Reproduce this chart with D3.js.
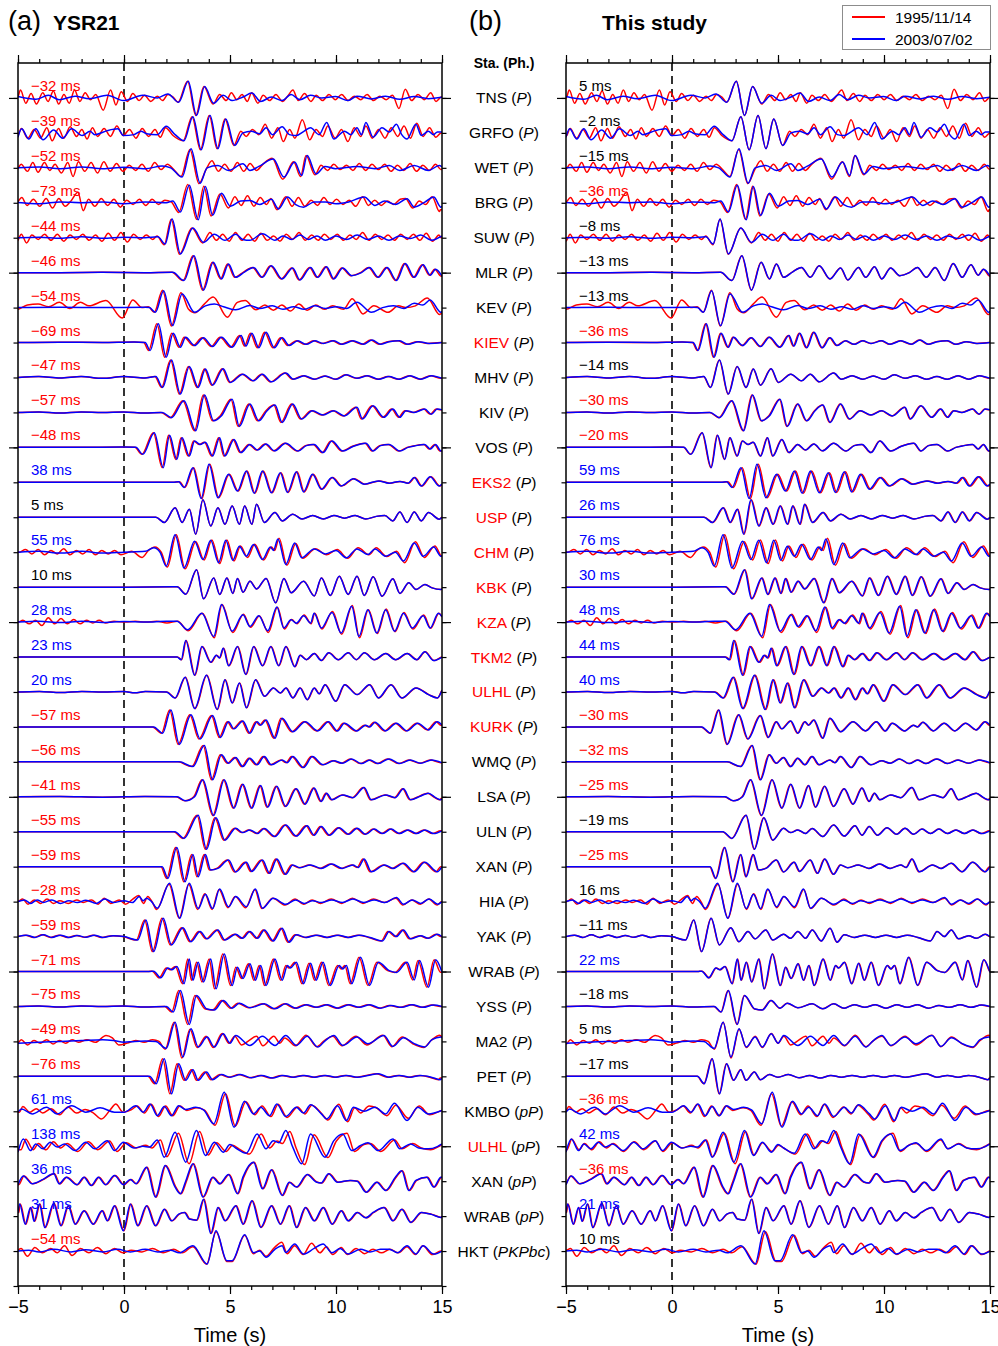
<!DOCTYPE html>
<html>
<head>
<meta charset="utf-8">
<script src="https://cdn.jsdelivr.net/npm/d3@7"></script>
<style>
  body { margin: 0; background: #fff; }
  text { font-family: "Liberation Sans", Arial, Helvetica, sans-serif; }
</style>
</head>
<body>
<svg id="chart" width="998" height="1346"></svg>
<script>
// ---------------- data ----------------
const stations = ["TNS","GRFO","WET","BRG","SUW","MLR","KEV","KIEV","MHV","KIV","VOS","EKS2","USP","CHM","KBK","KZA","TKM2","ULHL","KURK","WMQ","LSA","ULN","XAN","HIA","YAK","WRAB","YSS","MA2","PET","KMBO","ULHL","XAN","WRAB","HKT"];
const phases = ["P","P","P","P","P","P","P","P","P","P","P","P","P","P","P","P","P","P","P","P","P","P","P","P","P","P","P","P","P","pP","pP","pP","pP","PKPbc"];
// 1 = station name printed in red
const nameIsRed = [0,0,0,0,0,0,0,1,0,0,0,1,1,1,1,1,1,1,1,0,0,0,0,0,0,0,0,0,0,0,1,0,0,0];
// differential residuals (ms), 1995/11/14 relative to 2003/07/02
const residualsYSR21 = [-32,-39,-52,-73,-44,-46,-54,-69,-47,-57,-48,38,5,55,10,28,23,20,-57,-56,-41,-55,-59,-28,-59,-71,-75,-49,-76,61,138,36,31,-54];
const residualsThisStudy = [5,-2,-15,-36,-8,-13,-13,-36,-14,-30,-20,59,26,76,30,48,44,40,-30,-32,-25,-19,-25,16,-11,22,-18,5,-17,-36,42,-36,21,10];
const timeTicks = [-5, 0, 5, 10, 15];
const eventLabels = ["1995/11/14", "2003/07/02"];

// waveform turning points, flat [time (s), normalised amplitude, ...] per station
const blueTraces = [
 [-5,.08,-4.16,-.08,-3.57,.15,-3.06,-.1,-2.31,.1,-1.63,-.04,-.79,.15,-.03,-.15,.89,.15,1.57,0,2.07,.23,2.58,-.25,3.03,.95,3.42,-1,3.8,.65,4.23,-.3,4.68,.15,5.1,-.15,5.61,.05,6.03,.28,6.45,-.2,6.95,.05,7.46,-.15,7.88,.2,8.3,-.1,8.8,.15,9.31,0,9.98,.08,10.57,-.15,10.99,.1,11.67,-.06,12.34,.1,13.01,-.08,13.69,.08,14.36,-.04,15,.04],
 [-5,-.25,-4.83,.23,-4.49,-.35,-4.16,.23,-3.82,-.4,-3.32,.17,-2.9,-.3,-2.47,.23,-1.97,-.15,-1.6,.1,-1.38,-.1,-.79,.13,-.29,.23,-.03,-.15,.47,-.1,.8,.1,1.06,-.05,1.57,-.1,1.99,.38,2.41,-.1,2.83,-.45,3.25,.93,3.64,-.97,4.06,1,4.43,-.9,4.8,.8,5.22,-.72,5.61,0,6,.1,6.4,-.05,6.7,.3,7,-.1,7.46,.35,7.8,-.1,8.13,-.15,8.5,.1,8.8,.3,9.2,-.1,9.56,.6,9.9,-.35,10.4,.1,10.7,-.1,10.99,.3,11.2,-.1,11.41,.6,11.75,-.25,12.17,.3,12.51,.05,12.85,.5,13.1,-.1,13.35,-.35,13.77,.5,14.02,-.15,14.36,.1,14.6,-.1,14.78,.05,15,.05],
 [-5,0,-4,.05,-3,-.05,-2,.05,-1,-.05,0,.03,1,-.05,1.8,.1,2.2,0,2.74,-.53,3.16,1.09,3.59,-.88,3.92,0,4.43,.13,4.93,-.15,5.61,.23,5.94,-.15,6.36,.08,7.04,.5,7.54,-.53,8.05,.33,8.38,-.44,8.64,.7,9.06,-.35,9.48,.08,9.98,-.05,10.99,.08,11.84,-.05,12.51,.13,13.01,-.15,13.69,.13,14.36,-.15,14.87,.13,15,.05],
 [-5,.02,-4,-.05,-3,.05,-2,0,-1,.05,0,-.05,1,.05,2,0,2.3,.1,2.66,-.53,3.08,1,3.5,-.97,3.84,.93,4.18,-.72,4.6,.55,5.02,-.2,5.5,.1,5.94,.13,6.4,-.1,6.95,.2,7.29,-.35,7.71,.33,8.1,-.1,8.47,-.25,8.97,.05,9.5,.05,10,-.05,10.6,.05,11.33,.33,11.84,-.15,12.3,.1,12.8,-.1,13.35,.23,13.69,-.25,14.19,.04,14.61,.33,14.95,-.25,15,-.2],
 [-5,0,-4,.03,-3,-.03,-2,.05,-1,-.03,0,.03,1,0,1.6,.05,1.94,-.36,2.27,1.07,2.66,-.93,3.25,.55,3.75,-.27,4.26,.2,4.76,-.15,5.27,.2,5.6,-.1,5.94,-.15,6.53,.23,7.12,-.15,7.5,.1,7.9,-.1,8.3,.15,8.7,-.1,9.1,.1,9.5,-.15,10,.1,10.5,-.1,11,.15,11.5,-.1,12,.1,12.5,-.15,13,.1,13.5,-.05,14,.15,14.5,-.15,15,.1],
 [-5,0,-3,0,-1,.02,1,0,2.3,.02,2.83,-.45,3.3,.97,3.75,-1,4.21,.6,4.6,-.36,4.93,.5,5.27,-.27,5.7,.05,6.11,.3,6.53,-.27,6.95,.4,7.46,-.36,7.96,.27,8.3,-.42,8.8,.3,9.14,-.27,9.56,.34,9.9,-.36,10.32,.27,10.74,-.17,11.2,0,11.58,.3,12,-.27,12.42,.3,12.85,-.45,13.27,.53,13.69,-.27,14.11,.45,14.45,-.15,14.7,.2,15,-.2],
 [-5,0,-3,.02,-1,0,1,.02,1.2,0,1.48,-.27,1.87,.97,2.29,-1.03,2.74,.78,3.33,-.27,3.84,.1,4.26,.2,4.7,.05,5.27,-.13,5.94,.12,6.4,-.05,7,.1,7.5,-.1,8,.05,8.5,-.1,9,.1,9.5,-.05,10,.05,10.5,-.05,10.99,.3,11.67,-.27,12.2,0,12.7,.1,13.2,-.05,13.69,.25,14.1,.15,14.44,.44,14.95,-.27,15,-.2],
 [-5,0,-3,.02,-1,0,.5,.03,1,0,1.23,-.46,1.62,1.07,1.99,-.84,2.32,.53,2.66,-.27,2.91,.3,3.33,-.17,3.75,.27,4.18,-.23,4.6,.3,5.1,-.27,5.52,.4,5.75,-.2,6.03,.53,6.36,-.3,6.7,.59,7.09,-.3,7.46,.27,7.79,-.17,8.2,.1,8.6,-.1,9,.1,9.4,-.05,9.9,.1,10.3,-.1,10.8,.1,11.3,-.1,11.7,.15,12.1,-.1,12.5,.05,13,.1,13.4,-.1,13.9,.05,14.4,-.05,15,0],
 [-5,0,-4,.05,-3,-.03,-2,.05,-1,-.05,0,.05,1,-.03,1.5,.05,1.82,-.57,2.24,1,2.66,-.95,3.08,.63,3.5,-.57,3.84,.48,4.18,-.44,4.68,.5,5.02,-.28,5.61,.19,6.11,-.19,6.53,.19,6.95,-.25,7.63,.25,8,-.1,8.5,.1,9,-.1,9.5,.08,10,-.1,10.5,.15,11,-.05,11.5,.1,12,-.1,12.5,.05,13,-.1,13.5,.1,14,-.1,14.5,.1,15,-.05],
 [-5,0,-4,.03,-3,-.03,-2,.03,-1,0,0,.03,1,-.03,1.8,0,2.24,-.3,2.83,.67,3.38,-1.05,3.8,1,4.23,-.48,4.6,-.19,5.1,.76,5.44,-.8,5.94,.48,6.36,-.48,6.75,.1,7.12,.42,7.46,-.57,7.96,.48,8.38,-.38,8.89,.1,9.39,-.15,9.9,.1,10.4,-.2,10.99,.3,11.25,-.38,11.75,.38,12.26,-.28,12.68,.19,13.01,-.28,13.3,.1,13.69,0,14.19,.19,14.5,-.1,14.78,.19,15,.15],
 [-5,0,-2,0,0,.02,.56,0,.89,-.4,1.43,.84,1.85,-1.16,2.15,.69,2.49,-.69,2.74,.55,3.08,-.5,3.33,.36,3.59,.17,3.84,.3,4.18,-.5,4.51,.55,4.76,-.5,5.19,.45,5.52,-.3,5.94,.17,6.3,-.15,6.7,.2,7.1,-.2,7.63,.23,8.22,-.21,8.6,.1,8.97,.17,9.39,-.3,9.81,.36,10.32,-.21,10.8,.05,11.41,.23,11.75,-.21,12.1,.1,12.51,.17,13.01,-.21,13.4,0,13.69,.08,14.19,.17,14.45,-.1,14.7,.17,14.95,-.21,15,-.2],
 [-5,0,-2,0,0,0,2.3,0,2.58,.03,2.83,-.3,3.25,.84,3.64,-.93,4.01,1.03,4.43,-.88,4.93,.46,5.35,-.5,5.77,.65,6.14,-.63,6.53,.65,6.95,-.6,7.37,.55,7.71,-.58,8.13,.6,8.47,-.55,8.89,.46,9.31,-.4,9.81,.27,10.24,-.21,10.82,.21,11.33,-.11,12,.08,12.5,-.05,13,.05,13.4,-.05,13.69,.27,14.02,-.21,14.44,.32,14.87,-.21,15,-.1],
 [-5,0,-2,0,0,0,1.5,0,1.9,-.3,2.41,.55,2.74,-.3,3.08,.46,3.38,-.97,3.72,1,4.09,-.5,4.43,.55,4.76,-.4,5.1,.65,5.44,-.4,5.69,.65,6.03,-.4,6.25,.74,6.62,-.3,7.12,.27,7.46,-.21,7.96,.17,8.4,-.1,8.9,.1,9.4,-.1,9.9,.1,10.4,-.05,10.9,.1,11.4,-.1,11.9,.05,12.3,.1,12.68,-.21,13.01,.3,13.35,-.3,13.69,.3,14.02,-.21,14.36,.27,14.87,-.11,15,0],
 [-5,0,-4,.05,-3,-.05,-2,.05,-1,-.05,0,0,1,.05,1.4,.25,1.7,0,1.99,-.8,2.41,1,2.83,-.9,3.33,.63,3.72,-.42,4.09,.69,4.46,-.6,4.8,.69,5.13,-.46,5.44,.34,5.77,-.23,6.11,.44,6.53,-.42,6.9,.3,7.05,.1,7.26,.76,7.63,-.7,8.05,.53,8.38,-.32,8.97,.19,9.5,-.1,10,.1,10.49,-.32,10.99,.19,11.5,-.13,11.84,.19,12.34,-.23,12.8,0,13.18,-.5,13.69,.53,14.11,-.23,14.61,.3,14.95,-.23,15,-.2],
 [-5,0,-2,0,0,0,2.5,.02,2.91,-.4,3.42,1,3.75,-.67,4.23,.53,4.51,-.42,4.85,.53,5.13,-.36,5.35,.5,5.61,-.29,5.94,.34,6.25,-.1,6.7,.5,7.15,-.9,7.54,.5,7.88,-.32,8.47,.34,8.97,-.5,9.31,.53,9.73,-.48,10.15,.63,10.57,-.42,10.99,.63,11.33,-.48,11.75,.6,12.17,-.52,12.68,.48,13.01,-.36,13.43,.25,13.77,-.13,14.19,.15,14.53,-.04,14.95,-.13,15,-.1],
 [-5,0,-4,.05,-3,-.03,-2,.05,-1,-.02,0,.03,1,0,2,.05,2.5,.05,3,-.44,3.67,.5,4.23,-.82,4.6,1,5.1,-.52,5.61,.42,5.94,-.25,6.36,.36,6.78,-.5,7.21,.86,7.54,-.34,7.88,.13,8.13,-.06,8.47,.36,8.8,-.06,8.97,.5,9.31,-.34,9.81,.55,10.24,-.63,10.74,.9,11.08,-.82,11.5,.7,11.92,-.63,12.34,.7,12.76,-.53,13.18,.5,13.6,-.34,14.11,.36,14.44,-.34,14.83,.5,15,.3],
 [-5,0,-2,0,0,0,2.5,0,2.7,-.15,2.91,.95,3.33,-1.05,3.67,.6,4.09,-.3,4.35,.1,4.5,-.05,4.68,.5,4.93,-.5,5.35,.6,5.74,-1,6.11,.6,6.53,-.5,6.92,.6,7.29,-.5,7.63,.6,8.05,-.55,8.3,.1,8.6,-.15,8.97,.2,9.3,-.2,9.65,.25,10.1,-.15,10.57,.25,10.95,-.15,11.33,.25,11.8,-.15,12.34,.2,12.8,-.15,13.35,.2,13.8,-.15,14.19,.3,14.6,-.2,15,0],
 [-5,0,-4,.03,-3,-.03,-2,.03,-1,0,0,.03,.5,-.05,1,.03,2,0,2.41,-.34,2.88,.84,3.33,-.95,3.89,.95,4.39,-1,4.76,.7,5.1,-.63,5.44,.51,5.77,-.91,6.2,.7,6.62,-.25,7.04,.23,7.37,-.06,7.63,.23,7.96,-.34,8.3,.23,8.64,-.44,8.97,.23,9.2,-.1,9.48,.42,9.98,-.53,10.4,.42,10.99,-.15,11.58,.42,12,-.34,12.59,.42,13.1,-.34,13.77,.23,14.36,-.15,14.78,-.34,15,.1],
 [-5,0,-2,0,0,0,1.4,0,1.82,-.36,2.21,.97,2.61,-1,3.16,.69,3.59,-.69,4.18,.65,4.55,-.6,4.93,.3,5.19,-.11,5.61,.34,5.94,-.36,6.28,.3,6.45,.1,6.7,.4,7.12,-.65,7.46,.5,7.96,-.27,8.55,.3,9.14,-.23,9.65,.3,10.07,-.23,10.4,.21,10.99,-.23,11.4,.1,11.6,0,11.84,.27,12.34,-.23,12.85,.21,13.35,-.23,13.86,.21,14.36,-.17,14.78,.3,15,.1],
 [-5,0,-2,0,0,0,2.6,0,3.25,-.27,3.79,.93,4.18,-1.03,4.6,.4,4.93,-.08,5.27,.25,5.61,-.27,5.94,.21,6.28,-.17,6.62,.3,6.95,-.17,7.46,.11,7.7,-.05,7.96,.3,8.47,-.32,8.89,.3,9.39,-.17,9.9,.06,10.3,-.08,10.74,.17,11.2,-.1,11.6,.1,12,-.1,12.5,.17,13,-.1,13.5,.1,14,-.08,14.5,.1,15,-.05],
 [-5,0,-3,.02,-1,-.02,1,.02,2.5,0,2.91,-.23,3.33,0,3.72,.97,4.23,-1.07,4.73,.97,5.19,-.65,5.61,.72,6.03,-.65,6.45,.65,6.78,-.6,7.21,.6,7.63,-.55,8.13,.46,8.55,-.42,8.97,.5,9.31,-.27,9.56,.21,9.81,-.17,10.32,.11,10.8,-.05,11.33,.53,11.67,-.17,12.34,.11,12.8,-.05,13.18,.46,13.52,-.17,14,.05,14.36,.21,14.7,-.05,14.95,-.17,15,-.1],
 [-5,0,-2,0,0,0,2.4,0,2.83,-.38,3.5,.95,3.89,-1,4.34,.8,4.76,-.48,5.27,.2,5.6,-.05,5.94,.1,6.3,-.1,6.62,.19,7.12,-.27,7.63,.38,8.13,-.25,8.64,.34,8.97,-.2,9.31,.3,9.7,-.2,10.15,.23,10.6,-.15,11,.2,11.4,-.15,11.8,.15,12.2,-.1,12.6,.15,13,-.1,13.4,.1,13.8,-.1,14.2,.1,14.6,-.1,15,.05],
 [-5,0,-2,0,0,0,1.8,0,2.07,-.67,2.49,1.1,2.88,-.86,3.25,.7,3.5,-.57,3.84,.7,4.09,-.19,4.43,-.1,4.93,.38,5.27,-.3,5.77,.25,6.03,-.27,6.53,.38,6.87,-.38,7.21,.44,7.63,-.44,7.96,.1,8.3,-.06,8.8,.1,9.3,-.1,9.8,.15,10.3,-.1,10.8,.1,11.05,-.05,11.33,.44,11.67,-.29,12.3,.1,12.7,-.1,13.18,.19,13.69,-.29,14.19,.25,14.78,-.29,15,0],
 [-5,0,-4.7,.1,-4.4,-.1,-4.1,.1,-3.8,-.05,-3.4,.1,-3,-.1,-2.6,.05,-2.2,-.05,-1.8,.08,-1.3,-.1,-.9,.15,-.5,-.05,0,.05,.4,-.05,.72,.3,.9,.05,1.06,.2,1.3,0,1.57,-.38,2.15,1.05,2.63,-.95,3.08,1.05,3.5,-.4,3.84,.42,4.18,-.4,4.51,.72,4.93,-.3,5.27,.29,5.77,-.29,6.2,.72,6.53,-.38,7.04,.19,7.63,-.15,8.1,.1,8.5,-.1,8.9,.05,9.3,-.05,9.8,.1,10.3,-.05,10.8,.15,11.3,-.05,11.8,.1,12.3,-.05,12.85,.23,13.18,-.15,13.6,.1,14,-.1,14.4,.15,14.8,-.15,15,0],
 [-5,0,-4.6,.08,-4.2,-.05,-3.8,.1,-3.4,-.05,-3,.08,-2.6,-.05,-2.2,.06,-1.8,-.04,-1.4,.08,-1,-.05,-.5,.05,0,0,.64,-.2,1.03,.95,1.4,-.86,1.85,1.05,2.24,-.48,2.78,.51,3.16,-.29,3.59,.29,3.92,-.13,4.43,.38,4.76,-.2,5.27,.13,5.6,-.1,5.94,.29,6.3,-.1,6.62,.38,7.04,-.25,7.46,.48,7.79,-.32,8.13,.1,8.6,-.05,9.1,.08,9.6,-.05,10.1,.08,10.6,-.05,11.1,.08,11.6,-.05,12.19,-.25,12.51,.29,12.85,0,13.18,.38,13.52,-.13,14,.05,14.36,-.1,14.78,.13,15,0],
 [-5,0,-2,0,0,0,1.2,0,1.4,.02,1.73,-.36,2.07,.2,2.25,.1,2.49,.29,2.83,-.7,3.08,.72,3.25,-.5,3.5,.53,3.75,-.6,4.09,.72,4.34,-.99,4.73,1,5.1,-.8,5.35,.25,5.61,-.4,5.94,.44,6.2,-.5,6.45,.34,6.7,-.8,7.12,.72,7.46,-.5,7.71,.34,7.85,.2,8.13,.53,8.47,-.7,8.8,.48,9.06,-.5,9.39,.53,9.73,-.8,10.15,.34,10.32,.15,10.49,.34,10.74,-.7,11.16,.82,11.58,-.8,12,.53,12.51,.05,12.85,-.05,13.35,.53,13.69,-.48,13.94,.63,14.36,-.9,14.7,.67,15,-.04],
 [-5,0,-4,.03,-3,-.03,-2,.03,-1,0,0,.03,1,-.03,2,0,2.32,-.32,2.66,.91,3.08,-1.03,3.42,.63,3.92,-.15,4.26,-.2,4.68,.34,5.1,-.1,5.44,.19,5.94,-.08,6.62,.15,7.12,-.13,7.63,.15,8.13,-.1,8.6,.1,9.1,-.05,9.6,.1,10.1,-.1,10.6,.1,11.1,-.05,11.6,.1,12.1,-.1,12.6,.05,13.1,-.05,13.6,.1,14.1,-.05,14.6,.08,15,0],
 [-5,-.1,-4,-.05,-3,0,-2,.05,-1,.1,-.5,.05,0,-.05,.5,0,1,.02,1.5,0,1.99,-.4,2.41,1.1,2.78,-.9,3.16,.72,3.5,-.32,3.92,.25,4.26,-.32,4.68,.44,5,-.1,5.27,.34,5.94,-.23,6.53,.29,7.12,-.23,7.63,.34,8.13,-.23,8.64,.29,9.14,-.32,9.5,.05,9.9,.34,10.32,-.23,10.99,.25,11.5,-.13,12.26,.34,12.68,-.29,13.18,.21,13.69,-.13,14.19,-.32,14.53,.1,14.95,.25,15,.2],
 [-5,0,-2,0,0,0,1.2,0,1.52,-.42,1.9,1,2.24,-1,2.58,.72,2.91,-.23,3.25,.38,3.5,-.23,3.89,.25,4.18,-.19,4.6,.1,5,-.05,5.5,.1,6,-.08,6.5,.05,7,-.1,7.5,.05,8,-.05,8.5,.05,9,-.05,9.5,.05,10,-.05,10.5,.05,11,-.05,11.5,.05,12,.15,12.5,-.05,13,.05,13.5,-.05,14,.05,14.5,-.05,14.9,-.19,15,-.1],
 [-5,-.05,-4.83,.13,-4.33,-.15,-3.65,.23,-3.15,-.15,-2.47,.32,-1.8,-.05,-1.13,.2,-.45,-.05,0,-.06,.56,.32,.9,-.05,1.23,.42,1.57,-.25,1.9,.27,2.24,-.25,2.58,.32,2.9,.1,3.38,.23,3.75,.08,4.23,-.72,4.73,1.09,5.19,-.91,5.69,.57,6.11,-.15,6.45,.23,6.87,-.25,7.21,.42,7.63,-.3,8.13,.23,8.47,-.1,8.8,.38,9.31,-.15,9.56,-.44,10.07,.32,10.49,-.53,10.82,.23,11.33,0,11.84,.23,12.34,-.15,12.76,.46,13.35,-.53,13.86,.23,14.36,-.15,15,.05],
 [-5,-.34,-4.75,.42,-4.41,-.25,-4.16,.13,-3.82,-.15,-3.48,.23,-3.15,-.05,-2.81,.13,-2.31,-.25,-1.8,.23,-1.38,-.15,-.79,.32,-.45,-.25,-.03,.23,.47,-.1,.89,0,1.2,-.05,1.57,.36,1.9,-.63,2.41,.8,2.91,-.91,3.42,.9,3.84,-.53,4.26,.23,4.68,-.34,5,.1,5.27,-.1,5.77,-.4,6.28,.7,6.7,-.15,7.04,.32,7.3,.2,7.63,.9,7.96,-.05,8.38,-1,8.8,.7,9.48,-.63,9.9,.32,10.32,.7,10.74,-.25,11.16,.04,11.5,.2,12,-.25,12.68,.42,13.01,-.15,13.52,.13,13.9,-.1,14.36,-.15,14.78,-.02,15,.13],
 [-5,-.2,-4.75,.3,-4.33,-.15,-3.82,.1,-3.32,.42,-3.06,-.15,-2.73,.23,-2.22,-.2,-1.89,.23,-1.55,-.25,-1.21,.23,-.88,-.2,-.45,.32,-.03,-.2,.3,.1,.56,-.15,1.06,.8,1.48,-.91,1.94,.9,2.41,-.34,2.66,-.72,2.91,0,3.25,1,3.72,-.91,4.18,.23,4.51,-.15,4.93,.38,5.35,-.72,5.61,.23,6.11,1.09,6.53,-.44,6.95,.65,7.46,-.82,7.79,-.06,8.13,-.34,8.64,.38,9.06,-.05,9.3,-.1,9.65,.42,10.07,-.06,10.66,.04,11,0,11.41,-.63,11.92,-.06,12.34,-.53,12.8,.23,13.1,.6,13.43,-.53,13.77,.04,14.28,.23,14.61,-.34,14.95,.23,15,.2],
 [-5,.2,-4.92,.69,-4.66,-.46,-4.41,.5,-4.24,-.3,-3.99,.69,-3.74,-.65,-3.32,.72,-2.98,-.55,-2.64,.6,-2.31,-.46,-1.89,.3,-1.46,-.46,-1.04,.3,-.79,-.27,-.45,.6,-.03,-.84,.3,.69,.64,-.55,1.06,.6,1.48,-.55,1.9,.4,2.24,-.27,2.58,.11,2.85,.2,3.08,-.17,3.42,-.23,3.75,.97,4.09,-1,4.43,.5,4.76,-.27,5.27,.6,5.61,-.46,6.03,.88,6.45,-.65,6.95,.6,7.37,-.46,7.79,.6,8.13,-.65,8.55,.5,8.97,-.27,9.39,.5,9.81,-.46,10.24,.3,10.57,-.27,11,.2,11.4,-.1,11.75,.21,12.26,.5,12.68,-.27,13.1,.4,13.52,-.36,14.02,.21,14.5,.1,14.95,-.08,15,0],
 [-5,0,-4.5,.05,-4,-.05,-3.3,.1,-2.5,-.05,-1.8,.08,-1,-.05,-.3,.1,.3,-.05,1,.1,1.6,-.05,2.2,.05,2.6,-.1,3.25,.3,3.92,-.74,4.34,1.16,4.85,-.55,5.1,-.55,5.69,.93,6.11,-.1,6.4,0,6.7,-.36,7.12,.1,7.46,.3,7.63,-.08,8.05,.4,8.47,-.17,8.97,.15,9.39,.4,9.81,-.1,10.2,.15,10.57,-.17,11.16,.11,11.6,-.05,12.1,.1,12.51,.11,12.9,-.1,13.35,.3,13.77,-.17,14.11,.3,14.61,-.17,15,0]
];

// 1995/11/14 traces; null where the record follows the 2003/07/02 shape
const redTraces = [
 [-5,0,-4.85,.45,-4.6,-.3,-4.35,.25,-4.1,-.35,-3.8,.3,-3.55,-.2,-3.3,.4,-3.05,-.35,-2.8,.2,-2.55,-.3,-2.3,.45,-2.05,-.2,-1.8,.3,-1.55,-.1,-1.3,.2,-.95,-.7,-.6,.45,-.35,-.4,-.1,.35,.2,-.2,.45,.25,.75,-.15,1,.15,1.3,-.2,1.6,.1,1.85,-.15,2.1,.2,2.35,.05,2.58,-.25,3.03,.95,3.42,-1,3.8,.65,4.23,-.35,4.55,.2,4.85,-.15,5.1,.3,5.35,-.1,5.6,.2,5.85,-.2,6.05,.3,6.35,-.3,6.6,.15,6.9,-.15,7.2,.2,7.5,-.2,7.75,.1,8,.45,8.25,-.15,8.55,.25,8.85,-.2,9.1,.15,9.4,-.15,9.7,.2,10,-.1,10.3,.2,10.6,-.15,10.9,.1,11.2,-.1,11.5,.2,11.8,-.15,12.1,.1,12.4,-.1,12.7,.15,13,-.6,13.3,.5,13.6,-.15,13.9,.2,14.2,-.1,14.5,.3,14.75,-.2,15,.05],
 [-5,-.2,-4.8,.25,-4.5,-.3,-4.2,.2,-3.9,-.3,-3.6,.3,-3.35,-.45,-3.05,.25,-2.8,-.3,-2.5,.35,-2.2,-.2,-1.95,.2,-1.7,-.35,-1.45,.3,-1.2,-.2,-.9,.25,-.6,-.2,-.3,.4,0,-.15,.3,.2,.6,-.3,.9,.25,1.2,-.2,1.5,.2,1.75,-.25,2,.3,2.35,-.15,2.83,-.45,3.25,.93,3.64,-.97,4.06,1,4.43,-.9,4.8,.8,5.22,-.72,5.55,.1,5.8,-.2,6.1,.2,6.4,-.1,6.7,.5,7,-.3,7.3,.3,7.55,-.5,7.85,.2,8.1,-.3,8.45,.75,8.8,-.4,9.1,.2,9.4,-.2,9.65,.4,10,-.3,10.3,.2,10.6,-.5,10.9,.3,11.2,-.2,11.45,.4,11.75,-.3,12.05,.2,12.35,-.3,12.65,.3,12.95,-.2,13.25,.4,13.55,-.3,13.85,.55,14.15,-.2,14.45,.3,14.75,-.25,15,0],
 [-5,-.1,-4.8,.2,-4.5,-.2,-4.25,.3,-4,-.25,-3.7,.3,-3.45,-.15,-3.2,.2,-2.9,-.3,-2.6,.3,-2.35,-.5,-2.1,.35,-1.8,-.2,-1.5,.3,-1.2,-.3,-.9,.35,-.6,-.2,-.3,.25,0,-.2,.3,.15,.6,-.15,.9,.2,1.2,-.2,1.5,.3,1.8,-.1,2.1,.2,2.4,-.1,2.74,-.5,3.16,1.05,3.59,-.9,3.92,-.1,4.2,.4,4.5,-.2,4.8,.2,5.1,-.2,5.4,.3,5.7,-.2,6,.25,6.3,-.15,6.6,.2,7.04,.55,7.54,-.65,8.05,.35,8.38,-.5,8.64,.7,9.06,-.4,9.35,.15,9.65,-.15,9.95,.2,10.25,-.1,10.55,.15,10.85,-.15,11.15,.25,11.45,-.15,11.75,.2,12.05,-.1,12.35,.2,12.65,-.2,12.95,.15,13.25,-.15,13.55,.25,13.85,-.2,14.15,.15,14.45,-.15,14.75,.2,15,-.1],
 [-5,0,-4.75,.3,-4.5,-.15,-4.2,.2,-3.9,-.2,-3.6,.25,-3.3,-.3,-3,.25,-2.7,-.2,-2.4,.15,-2.1,.6,-1.85,-.45,-1.6,.2,-1.3,-.2,-1,.25,-.7,-.15,-.4,.2,-.1,-.25,.2,.15,.5,-.1,.8,.2,1.1,-.15,1.4,.2,1.7,-.1,2,.15,2.3,.05,2.66,-.55,3.08,1.05,3.5,-.95,3.84,.95,4.18,-.75,4.6,.5,5,-.3,5.3,.35,5.6,-.15,5.9,.4,6.2,-.2,6.5,.3,6.8,-.1,7,.25,7.29,-.4,7.71,.35,8,-.2,8.3,.3,8.6,-.2,8.9,.15,9.2,-.15,9.5,.3,9.8,-.1,10.1,.2,10.4,-.1,10.7,.15,11,-.2,11.33,.35,11.6,-.15,11.9,.15,12.2,-.15,12.5,.1,12.8,-.1,13.1,.2,13.35,.25,13.69,-.3,14,.1,14.3,-.1,14.61,.35,14.95,-.5,15,-.4],
 [-5,-.2,-4.8,.2,-4.55,-.3,-4.3,.15,-4,-.1,-3.7,.2,-3.4,-.15,-3.1,.2,-2.8,-.2,-2.5,.15,-2.2,-.1,-1.9,.2,-1.6,-.15,-1.3,.15,-1,-.2,-.7,.25,-.4,-.15,-.1,.3,.2,-.25,.5,.2,.8,-.1,1.1,.15,1.4,-.1,1.6,.1,1.94,-.4,2.27,1.05,2.66,-.95,3.25,.55,3.75,-.3,4.1,.3,4.4,-.15,4.7,.2,5,-.2,5.3,.3,5.6,-.15,5.9,.2,6.2,-.2,6.5,.25,6.8,-.15,7.1,.1,7.4,-.2,7.7,.2,8,-.1,8.3,.3,8.6,-.15,8.9,.15,9.2,-.15,9.5,.2,9.8,-.1,10.1,.2,10.4,-.15,10.7,.15,11,-.1,11.3,.3,11.6,-.15,11.9,.2,12.2,-.1,12.5,.15,12.8,-.15,13.1,.2,13.4,-.1,13.7,.2,14,-.15,14.3,.25,14.6,-.2,14.9,.15,15,0],
 null,
 [-5,-.1,-4.5,.15,-4,.2,-3.5,.05,-3,.3,-2.5,-.05,-2,.3,-1.6,.1,-.8,.4,-.03,-.6,.47,.44,.9,0,1.2,.05,1.48,-.27,1.87,1,2.29,-1.05,2.74,.85,3.1,-.1,3.4,-.3,3.84,.2,4.26,.6,4.93,-.55,5.4,.3,5.77,.4,6.28,-.13,6.7,.15,7.1,-.15,7.5,.15,7.9,-.2,8.3,.2,8.7,-.15,9.1,.15,9.5,-.1,9.9,.1,10.4,-.1,10.82,.5,11.33,-.36,11.84,.1,12.51,-.27,13,.1,13.35,0,13.8,.1,14.36,.55,14.95,-.4,15,-.35],
 null, null, null, null, null, null,
 [-5,0,-4.7,.15,-4.4,-.1,-4.1,.15,-3.8,-.15,-3.5,.1,-3.2,-.1,-2.9,.2,-2.6,-.15,-2.3,.1,-2,-.1,-1.7,.15,-1.4,-.15,-1.1,.1,-.8,-.1,-.5,.1,-.2,-.15,.3,.05,.8,-.3,1.1,.1,1.4,.3,1.7,0,1.99,-.85,2.41,1,2.83,-.95,3.33,.6,3.72,-.45,4.09,.7,4.46,-.65,4.8,.7,5.13,-.5,5.44,.35,5.77,-.3,6.11,.45,6.53,-.45,6.9,.3,7.05,.1,7.26,.8,7.63,-.75,8.05,.5,8.38,-.35,8.97,.2,9.5,-.15,10,.15,10.49,-.35,10.99,.25,11.5,-.15,11.84,.25,12.34,-.25,12.8,.05,13.18,-.6,13.69,.6,14.11,-.3,14.61,.35,14.95,-.25,15,-.2],
 null,
 [-5,0,-4.8,.1,-4.5,-.1,-4.2,.1,-3.9,-.2,-3.6,.25,-3.3,-.1,-3,.2,-2.7,-.1,-2.4,.15,-2.1,-.1,-1.8,.1,-1.5,-.05,-1.2,.1,-.9,-.05,-.5,.05,0,0,.5,.05,1,0,1.5,.05,2,-.05,2.5,.05,3,-.5,3.67,.5,4.23,-.9,4.6,1,5.1,-.6,5.61,.45,5.94,-.3,6.36,.35,6.78,-.6,7.21,.85,7.54,-.4,7.88,.15,8.13,-.1,8.47,.4,8.8,-.1,8.97,.5,9.31,-.4,9.81,.6,10.24,-.7,10.74,.95,11.08,-.9,11.5,.7,11.92,-.65,12.34,.75,12.76,-.55,13.18,.55,13.6,-.4,14.11,.4,14.44,-.35,14.83,.5,15,.3],
 null, null, null, null, null, null, null,
 [-5,0,-4.75,.15,-4.5,-.15,-4.2,.1,-3.9,-.1,-3.6,.15,-3.3,-.1,-3,.05,-2.6,-.1,-2.2,.1,-1.9,-.05,-1.5,.1,-1.2,-.15,-.9,.2,-.6,-.1,-.2,.1,.1,-.15,.4,.1,.72,.35,.95,-.1,1.15,.3,1.35,0,1.57,-.45,2.15,1,2.63,-.95,3.08,1,3.5,-.45,3.84,.45,4.18,-.45,4.51,.7,4.93,-.35,5.27,.3,5.77,-.35,6.2,.7,6.53,-.4,7.04,.2,7.63,-.2,8.1,.15,8.5,-.15,8.9,.1,9.3,-.1,9.8,.15,10.3,-.1,10.8,.2,11.3,-.1,11.8,.15,12.3,-.05,12.85,.2,13.18,-.2,13.6,.1,14,-.15,14.4,.15,14.8,-.2,15,0],
 null, null, null,
 [-5,-.15,-4.8,.1,-4.5,-.2,-4.2,.05,-3.9,-.1,-3.6,.1,-3.3,-.15,-3,.05,-2.7,-.1,-2.4,.1,-2.1,-.05,-1.7,.1,-1.3,-.05,-.8,.34,-.5,.2,-.2,-.2,.2,-.1,.6,.05,1,-.05,1.4,.1,1.7,0,1.99,-.45,2.41,1.1,2.78,-.95,3.16,.7,3.5,-.35,3.92,.3,4.26,-.35,4.68,.45,5,-.1,5.27,.3,5.6,-.2,5.94,.05,6.3,.3,6.6,-.25,7.12,.3,7.4,-.1,7.63,.2,8.13,-.25,8.64,.35,9.14,-.3,9.5,.05,9.9,.3,10.32,-.25,10.99,.3,11.5,-.2,12.26,.35,12.68,-.3,13.18,.25,13.69,-.15,14.19,-.35,14.53,.05,14.95,.35,15,.3],
 null,
 [-5,-.05,-4.83,.27,-4.5,-.05,-4.2,.15,-3.9,-.1,-3.5,.15,-3.1,-.2,-2.7,.25,-2.3,-.1,-1.9,.1,-1.5,-.1,-1.13,-.44,-.7,.1,-.45,.42,-.1,-.05,.3,.1,.56,.3,.9,-.1,1.23,.4,1.57,-.3,1.9,.3,2.24,-.25,2.58,.3,2.9,.05,3.38,.2,3.75,.05,4.23,-.8,4.73,1,5.19,-.85,5.69,.55,6.11,-.2,6.45,.3,6.87,-.3,7.21,.4,7.63,-.35,8.13,.25,8.47,-.15,8.8,.35,9.31,-.2,9.56,-.5,10.07,.4,10.49,-.6,10.82,.2,11.1,-.1,11.5,.3,11.84,.2,12.34,-.25,12.76,.35,13.35,-.4,13.86,.3,14.36,-.2,15,.05],
 [-5,-.2,-4.77,.4,-4.42,-.2,-4.17,.15,-3.82,-.2,-3.47,.25,-3.12,-.1,-2.82,.15,-2.32,-.3,-1.82,.25,-1.37,-.2,-.82,.3,-.47,-.3,-.02,.2,.43,-.1,.88,.05,1.18,-.1,1.58,.35,1.88,-.6,2.43,.75,2.93,-1,3.43,.85,3.83,-.5,4.23,.2,4.68,-.3,4.98,.05,5.28,-.15,5.78,-.45,6.33,.7,6.73,-.1,7.08,.3,7.33,.15,7.68,.85,7.98,-.1,8.38,-1.05,8.83,.65,9.48,-.65,9.88,.3,10.38,.75,10.73,-.3,11.18,.1,11.48,.15,11.98,-.3,12.63,.35,12.98,-.15,13.48,.15,13.88,-.1,14.33,-.2,14.73,0,15,.15],
 null, null,
 [-5,.05,-4.8,.15,-4.5,-.3,-4.15,.2,-3.8,-.1,-3.4,.15,-3.1,-.1,-2.75,.3,-2.4,-.25,-2,.15,-1.6,-.1,-1.2,.2,-.8,-.15,-.4,.15,0,-.1,.4,.05,.9,-.05,1.4,.15,1.9,-.1,2.4,.1,2.8,-.1,3.3,.25,3.95,-.75,4.4,1.1,4.9,-.6,5.15,-.6,5.75,.9,6.15,-.15,6.45,.05,6.75,-.3,7.15,.2,7.5,.5,7.75,-.15,8.1,.3,8.5,-.2,8.9,.45,9.3,-.1,9.6,.25,9.9,-.2,10.3,.2,10.6,-.2,11,.15,11.4,-.15,11.8,.1,12.2,-.1,12.6,.1,13,-.1,13.4,.25,13.8,-.2,14.15,.3,14.6,-.2,15,0]
];

// ---------------- layout ----------------
const svg = d3.select("#chart");
const RED = "#ff0000", BLUE = "#0000ff";
const y = d3.scaleLinear().domain([-1, 34]).range([63, 1286]);
const ampPx = (y(1) - y(0)) * 0.5;
const toPairs = flat => d3.range(0, flat.length, 2).map(k => [flat[k], flat[k + 1]]);

const panels = [
  { x0: 18,  x1: 442, residuals: residualsYSR21,     tag: "(a)", title: "YSR21",      tagX: 8,   titleX: 53 },
  { x0: 566, x1: 990, residuals: residualsThisStudy, tag: "(b)", title: "This study", tagX: 469, titleX: 602 }
];

const defs = svg.append("defs");

panels.forEach((p, pi) => {
  const x = d3.scaleLinear().domain([-5, 15]).range([p.x0, p.x1]);
  const g = svg.append("g");

  defs.append("clipPath").attr("id", "clip" + pi)
    .append("rect").attr("x", p.x0).attr("y", y(-1)).attr("width", p.x1 - p.x0).attr("height", y(34) - y(-1));

  // zero-time reference
  g.append("line")
    .attr("x1", x(0)).attr("x2", x(0)).attr("y1", y(-1)).attr("y2", y(34))
    .attr("stroke", "#000").attr("stroke-width", 1.6).attr("stroke-dasharray", "8,5");

  const traces = g.append("g").attr("clip-path", `url(#clip${pi})`);
  stations.forEach((s, i) => {
    const base = y(i);
    const blue = toPairs(blueTraces[i]);
    const red = toPairs(redTraces[i] || blueTraces[i]);
    const dt = p.residuals[i] / 1000;
    // hold the end values past the frame so shifted records reach the edges
    const redExt = [[red[0][0] - 0.5, red[0][1]], ...red, [red[red.length - 1][0] + 0.5, red[red.length - 1][1]]];
    const line = shift => d3.line()
      .x(d => x(d[0] + shift))
      .y(d => base - d[1] * ampPx)
      .curve(d3.curveMonotoneX);
    traces.append("path").attr("d", line(dt)(redExt))
      .attr("fill", "none").attr("stroke", RED).attr("stroke-width", 1.5).attr("stroke-linejoin", "round");
    traces.append("path").attr("d", line(0)(blue))
      .attr("fill", "none").attr("stroke", BLUE).attr("stroke-width", 1.5).attr("stroke-linejoin", "round");

    const r = p.residuals[i];
    const col = r <= -20 ? RED : (r >= 20 ? BLUE : "#000");
    g.append("text")
      .attr("x", p.x0 + 13).attr("y", base - 7)
      .attr("font-size", 15).attr("fill", col)
      .text((r < 0 ? "\u2212" + Math.abs(r) : r) + " ms");
  });

  // frame
  g.append("rect")
    .attr("x", p.x0).attr("y", y(-1)).attr("width", p.x1 - p.x0).attr("height", y(34) - y(-1))
    .attr("fill", "none").attr("stroke", "#000").attr("stroke-width", 1.5);

  const styleAxis = sel => { sel.select(".domain").remove(); sel.selectAll("line").attr("stroke-width", 1.2); };
  const minorT = d3.range(-5, 16);
  g.append("g").attr("transform", `translate(0,${y(-1)})`)
    .call(d3.axisTop(x).tickValues(minorT).tickSize(4).tickFormat("")).call(styleAxis);
  g.append("g").attr("transform", `translate(0,${y(-1)})`)
    .call(d3.axisTop(x).tickValues(timeTicks).tickSize(8).tickFormat("")).call(styleAxis);
  g.append("g").attr("transform", `translate(0,${y(34)})`)
    .call(d3.axisBottom(x).tickValues(minorT).tickSize(4).tickFormat("")).call(styleAxis);
  const bottom = g.append("g").attr("transform", `translate(0,${y(34)})`)
    .call(d3.axisBottom(x).tickValues(timeTicks).tickSize(8).tickPadding(6)).call(styleAxis);
  bottom.selectAll("text").attr("font-size", 18).attr("fill", "#000")
    .attr("font-family", '"Liberation Sans", Arial, sans-serif');

  const rowsMinor = d3.range(0, 35), rowsMajor = d3.range(0, 31, 5);
  g.append("g").attr("transform", `translate(${p.x0},0)`)
    .call(d3.axisLeft(y).tickValues(rowsMinor).tickSize(4.5).tickFormat("")).call(styleAxis);
  g.append("g").attr("transform", `translate(${p.x0},0)`)
    .call(d3.axisLeft(y).tickValues(rowsMajor).tickSize(9).tickFormat("")).call(styleAxis);
  g.append("g").attr("transform", `translate(${p.x1},0)`)
    .call(d3.axisRight(y).tickValues(rowsMinor).tickSize(4.5).tickFormat("")).call(styleAxis);
  g.append("g").attr("transform", `translate(${p.x1},0)`)
    .call(d3.axisRight(y).tickValues(rowsMajor).tickSize(9).tickFormat("")).call(styleAxis);

  g.append("text").attr("x", (p.x0 + p.x1) / 2).attr("y", 1342)
    .attr("text-anchor", "middle").attr("font-size", 20).text("Time (s)");

  g.append("text").attr("x", p.tagX).attr("y", 30).attr("font-size", 27).text(p.tag);
  g.append("text").attr("x", p.titleX).attr("y", 30).attr("font-size", 21)
    .attr("font-weight", "bold").text(p.title);
});

// station / phase column
const cx = 504;
svg.append("text").attr("x", cx).attr("y", 68).attr("text-anchor", "middle")
  .attr("font-size", 14).attr("font-weight", "bold").text("Sta. (Ph.)");
stations.forEach((s, i) => {
  const t = svg.append("text").attr("x", cx).attr("y", y(i) + 5.5)
    .attr("text-anchor", "middle").attr("font-size", 15.5).attr("fill", "#000");
  t.append("tspan").attr("fill", nameIsRed[i] ? RED : "#000").text(s);
  t.append("tspan").text(" (");
  t.append("tspan").attr("font-style", "italic").text(phases[i]);
  t.append("tspan").text(")");
});

// legend
const lg = svg.append("g");
lg.append("rect").attr("x", 842.5).attr("y", 5.5).attr("width", 148).attr("height", 44)
  .attr("fill", "#fff").attr("stroke", "#8c8c8c").attr("stroke-width", 1);
[RED, BLUE].forEach((c, k) => {
  const ly = 17 + k * 22;
  lg.append("line").attr("x1", 852).attr("x2", 885).attr("y1", ly).attr("y2", ly)
    .attr("stroke", c).attr("stroke-width", 2);
  lg.append("text").attr("x", 895).attr("y", ly + 5.5).attr("font-size", 15.5).text(eventLabels[k]);
});
</script>
</body>
</html>
